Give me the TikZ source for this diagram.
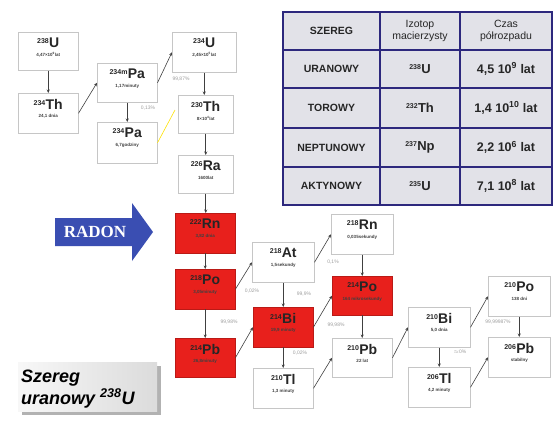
\documentclass[tikz,border=0pt]{standalone}
\usepackage{fontspec}
\setmainfont{Liberation Sans}
\newfontfamily\rdserif{Liberation Serif}
\usetikzlibrary{arrows.meta}
\definecolor{nred}{RGB}{232,32,28}
\definecolor{navy}{RGB}{45,40,125}
\definecolor{cellgray}{RGB}{226,226,232}
\definecolor{rblue}{RGB}{58,78,178}
\newcommand\el[2]{{\fontsize{7}{7}\selectfont\raisebox{4pt}{#1}}\kern0.3pt#2}
\newcommand\tsup[1]{\textsuperscript{#1}}
\newcommand\isobox[8]{%
  \node[#2, minimum width=#5pt, minimum height=#6pt, anchor=north west] (#1) at (#3,#4) {};
  \node[isolab] (#1-l) at ([yshift=-11pt]#1.north) {#7};
  \node[hllab] (#1-h) at ([yshift=-23pt]#1.north) {#8};
}
\begin{document}
\begin{tikzpicture}[x=1pt,y=-1pt,
  wbox/.style={draw=gray!45, line width=0.5pt, fill=white, inner sep=0pt},
  rbox/.style={draw=nred!80!black, line width=0.4pt, fill=nred, inner sep=0pt},
  isolab/.style={inner sep=0pt, font=\fontsize{14}{14}\selectfont\bfseries, text=black!85},
  hllab/.style={inner sep=0pt, font=\fontsize{4.5}{4.5}\selectfont\bfseries, text=black!75},
  arr/.style={-{Stealth[length=3.5pt,width=3pt]}, draw=black!75, line width=0.6pt},
  pct/.style={inner sep=0pt, font=\fontsize{5}{5}\selectfont, text=gray!75},
  cell/.style={draw=navy, line width=1.6pt, fill=cellgray, inner sep=0pt, align=center, text=black!85},
  hdr/.style={font=\fontsize{10.5}{12}\selectfont},
  hdrb/.style={font=\fontsize{10.5}{12}\selectfont\bfseries},
  rowb/.style={font=\fontsize{10.5}{12}\selectfont\bfseries},
  isot/.style={font=\fontsize{13}{13}\selectfont\bfseries},
  tval/.style={font=\fontsize{12.5}{13}\selectfont\bfseries}
]
\useasboundingbox (0,0) rectangle (555,421);
\fill[white] (0,0) rectangle (555,421);

% ---- table ----
\node[cell, hdrb, minimum width=97pt, minimum height=38pt] (t11) at (331.5,31) {SZEREG};
\node[cell, hdr, minimum width=80pt, minimum height=38pt] (t12) at (420,31) {Izotop\\macierzysty};
\node[cell, hdr, minimum width=92pt, minimum height=38pt] (t13) at (506,31) {Czas\\półrozpadu};
\node[cell, rowb, minimum width=97pt, minimum height=38pt] (t21) at (331.5,69) {URANOWY};
\node[cell, isot, minimum width=80pt, minimum height=38pt] (t22) at (420,69) {\el{238}{U}};
\node[cell, tval, minimum width=92pt, minimum height=38pt] (t23) at (506,69) {4,5 10\tsup{9} lat};
\node[cell, rowb, minimum width=97pt, minimum height=40pt] (t31) at (331.5,108) {TOROWY};
\node[cell, isot, minimum width=80pt, minimum height=40pt] (t32) at (420,108) {\el{232}{Th}};
\node[cell, tval, minimum width=92pt, minimum height=40pt] (t33) at (506,108) {1,4 10\tsup{10} lat};
\node[cell, rowb, minimum width=97pt, minimum height=39pt] (t41) at (331.5,147.5) {NEPTUNOWY};
\node[cell, isot, minimum width=80pt, minimum height=39pt] (t42) at (420,147.5) {\el{237}{Np}};
\node[cell, tval, minimum width=92pt, minimum height=39pt] (t43) at (506,147.5) {2,2 10\tsup{6} lat};
\node[cell, rowb, minimum width=97pt, minimum height=38pt] (t51) at (331.5,186) {AKTYNOWY};
\node[cell, isot, minimum width=80pt, minimum height=38pt] (t52) at (420,186) {\el{235}{U}};
\node[cell, tval, minimum width=92pt, minimum height=38pt] (t53) at (506,186) {7,1 10\tsup{8} lat};

% ---- upper chain ----
\isobox{U238}{wbox}{18}{32}{60}{38}{\el{238}{U}}{4,47×10\tsup{9}lat}
\isobox{Th234}{wbox}{18}{93}{60}{40}{\el{234}{Th}}{24,1 dnia}
\isobox{Pa234m}{wbox}{97}{63}{60}{39}{\el{234m}{Pa}}{1,17minuty}
\isobox{Pa234}{wbox}{97}{122}{60}{41}{\el{234}{Pa}}{6,7godziny}
\isobox{U234}{wbox}{172}{32}{64}{40}{\el{234}{U}}{2,45×10\tsup{5}lat}
\isobox{Th230}{wbox}{178}{95}{55}{38}{\el{230}{Th}}{8×10\tsup{4}lat}
\isobox{Ra226}{wbox}{178}{155}{55}{38}{\el{226}{Ra}}{1600lat}

% ---- radon part ----
\isobox{Rn222}{rbox}{175}{213}{60}{40}{\el{222}{Rn}}{3,82 dnia}
\isobox{Po218}{rbox}{175}{269}{60}{40}{\el{218}{Po}}{3,05minuty}
\isobox{Pb214}{rbox}{175}{338}{60}{39}{\el{214}{Pb}}{26,8minuty}
\isobox{At218}{wbox}{252}{242}{62}{40}{\el{218}{At}}{1,5sekundy}
\isobox{Rn218}{wbox}{331}{214}{62}{40}{\el{218}{Rn}}{0,035sekundy}
\isobox{Bi214}{rbox}{253}{307}{60}{40}{\el{214}{Bi}}{19,9 minuty}
\isobox{Po214}{rbox}{332}{276}{60}{39}{\el{214}{Po}}{164 mikrosekundy}
\isobox{Pb210}{wbox}{332}{338}{60}{39}{\el{210}{Pb}}{22 lat}
\isobox{Tl210}{wbox}{253}{368}{60}{40}{\el{210}{Tl}}{1,3 minuty}
\isobox{Bi210}{wbox}{408}{307}{62}{40}{\el{210}{Bi}}{5,0 dnia}
\isobox{Tl206}{wbox}{408}{367}{62}{40}{\el{206}{Tl}}{4,2 minuty}
\isobox{Po210}{wbox}{488}{276}{62}{40}{\el{210}{Po}}{138 dni}
\isobox{Pb206}{wbox}{488}{337}{62}{40}{\el{206}{Pb}}{stabilny}

% ---- connectors ----
\draw[arr] (U238.south) -- (U238.south |- Th234.north);
\draw[arr] (Th234.east) -- (Pa234m.west);
\draw[arr] (Pa234m.south) -- (Pa234m.south |- Pa234.north);
\draw[arr] (Pa234m.east) -- (U234.west);
\draw[arr] (U234.south) -- (U234.south |- Th230.north);
\draw[arr] (Th230.south) -- (Th230.south |- Ra226.north);
\draw[arr] (Ra226.south) -- (Ra226.south |- Rn222.north);
\draw[arr] (Rn222.south) -- (Rn222.south |- Po218.north);
\draw[arr] (Po218.south) -- (Po218.south |- Pb214.north);
\draw[arr] (Po218.east) -- (At218.west);
\draw[arr] (At218.east) -- (Rn218.west);
\draw[arr] (At218.south) -- (At218.south |- Bi214.north);
\draw[arr] (Pb214.east) -- (Bi214.west);
\draw[arr] (Rn218.south) -- (Rn218.south |- Po214.north);
\draw[arr] (Bi214.east) -- (Po214.west);
\draw[arr] (Po214.south) -- (Po214.south |- Pb210.north);
\draw[arr] (Bi214.south) -- (Bi214.south |- Tl210.north);
\draw[arr] (Tl210.east) -- (Pb210.west);
\draw[arr] (Pb210.east) -- (Bi210.west);
\draw[arr] (Bi210.east) -- (Po210.west);
\draw[arr] (Bi210.south) -- (Bi210.south |- Tl206.north);
\draw[arr] (Po210.south) -- (Po210.south |- Pb206.north);
\draw[arr] (Tl206.east) -- (Pb206.west);
\coordinate (yl) at (175,110);
\draw[yellow!85!orange, line width=0.6pt] (Pa234.east) -- (yl);

% ---- branching labels ----
\node[pct] (p1) at (181,79) {99,87\%};
\node[pct] (p2) at (148,108) {0,13\%};
\node[pct] (p3) at (252,291) {0,02\%};
\node[pct] (p4) at (229,322) {99,98\%};
\node[pct] (p5) at (304,294) {99,9\%};
\node[pct] (p6) at (333,262) {0,1\%};
\node[pct] (p7) at (336,325) {99,98\%};
\node[pct] (p8) at (300,353) {0,02\%};
\node[pct] (p9) at (498,322) {99,99987\%};
\node[pct] (p10) at (460,352) {$\approx$0\%};

% ---- RADON arrow ----
\fill[rblue] (55,218) -- (132,218) -- (132,203) -- (153,232) -- (132,261) -- (132,246) -- (55,246) -- cycle;
\node[inner sep=0pt, text=white, font=\fontsize{17}{17}\selectfont\rdserif\bfseries] (radon) at (95,232) {RADON};

% ---- title box ----
\fill[gray!60] (22,366) rectangle (161,415);
\node[inner sep=0pt, minimum width=139pt, minimum height=49pt, anchor=north west, left color=gray!6, right color=gray!28] (sz) at (18,362) {};
\node[inner sep=0pt, anchor=base west, font=\fontsize{18}{18}\selectfont\bfseries\itshape] (sz1) at (21,382) {Szereg};
\node[inner sep=0pt, anchor=base west, font=\fontsize{18}{18}\selectfont\bfseries\itshape] (sz2) at (21,404) {uranowy \tsup{238}U};
\end{tikzpicture}
\end{document}
